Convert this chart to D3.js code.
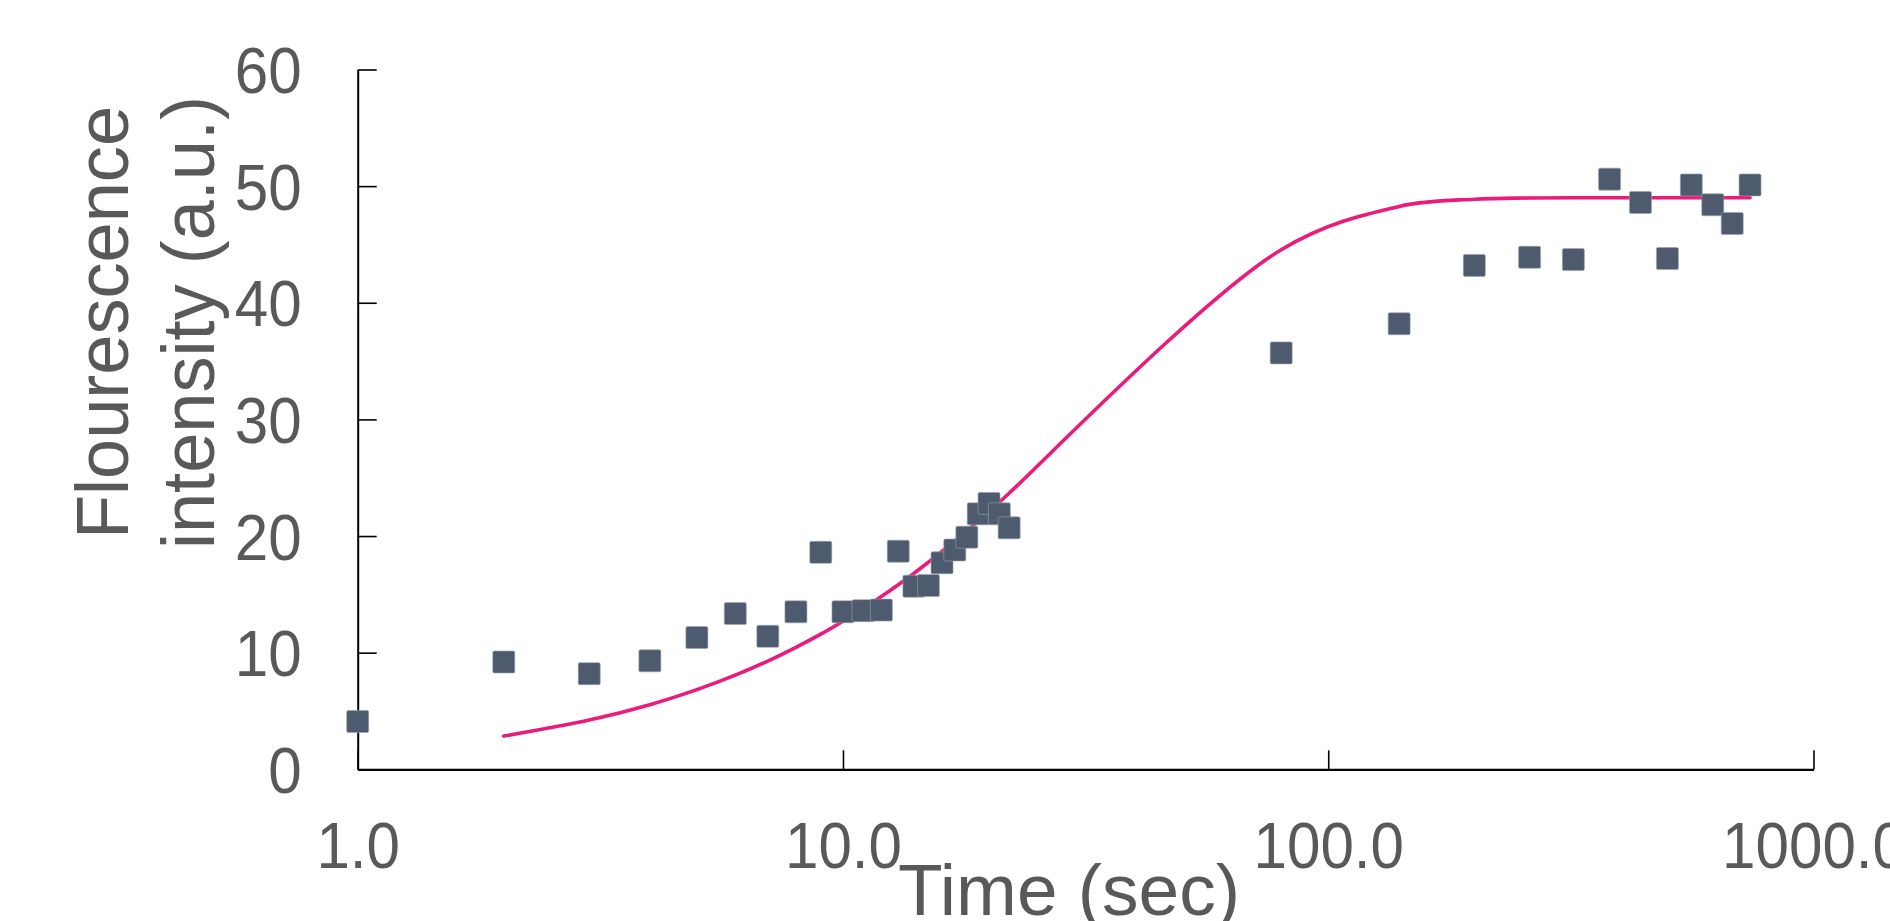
<!DOCTYPE html>
<html>
<head>
<meta charset="utf-8">
<script src="https://cdn.jsdelivr.net/npm/d3@7"></script>
<style>
  html, body { margin: 0; padding: 0; background: #ffffff; }
  svg { display: block; }
  text { font-family: "Liberation Sans", Arial, Helvetica, sans-serif; fill: #595959; }
</style>
</head>
<body>
<svg id="chart" width="1890" height="921"></svg>
<script>
// ---- data ----
const pointTimes = [1, 2, 3, 4, 5, 6, 7, 8, 9, 10, 11, 12, 13, 14, 15, 16, 17, 18, 19, 20, 21, 22,
                    80, 140, 200, 260, 320, 380, 440, 500, 560, 620, 680, 740];
const pointValues = [4.1, 9.2, 8.2, 9.3, 11.3, 13.35, 11.4, 13.5, 18.6, 13.5, 13.6, 13.65, 18.7, 15.7, 15.75, 17.7, 18.8, 19.9, 21.9, 22.8, 21.9, 20.7,
                     35.7, 38.2, 43.2, 43.9, 43.7, 50.6, 48.6, 43.8, 50.1, 48.4, 46.8, 50.1];

const fitTimes = [2, 3, 4, 5, 6, 7, 8, 9, 10, 11, 12, 13, 14, 15, 16, 17, 18, 19, 20, 21, 22,
                  80, 140, 200, 260, 320, 380, 440, 500, 560, 620, 680, 740];
const fitValues = [2.85, 4.22, 5.54, 6.83, 8.07, 9.28, 10.46, 11.59, 12.70, 13.77, 14.81, 15.82, 16.80, 17.76, 18.68, 19.58, 20.45, 21.29, 22.11, 22.90, 23.67,
                   44.55, 48.26, 48.88, 48.98, 49.0, 49.0, 49.0, 49.0, 49.0, 49.0, 49.0, 49.0];

const xTickValues = [1, 10, 100, 1000];
const xTickLabels = ["1.0", "10.0", "100.0", "1000.0"];
const yTickValues = [0, 10, 20, 30, 40, 50, 60];
const yTickLabels = ["0", "10", "20", "30", "40", "50", "60"];

const xTitle = "Time (sec)";
const yTitleLines = ["Flourescence", "intensity (a.u.)"];

// ---- layout ----
const svg = d3.select("#chart");
const plotLeft = 357.7, plotRight = 1813.5, plotTop = 69.5, plotBottom = 769.3;
const labelSqueeze = 0.94;

const x = d3.scaleLog().domain([1, 1000]).range([plotLeft, plotRight]);
const y = d3.scaleLinear().domain([0, 60]).range([plotBottom, plotTop]);

// x axis
const xAxis = d3.axisBottom(x)
  .tickValues(xTickValues)
  .tickFormat((d, i) => xTickLabels[i])
  .tickSizeInner(-19)
  .tickSizeOuter(0)
  .tickPadding(53);

const gx = svg.append("g").attr("transform", `translate(0,${plotBottom})`).call(xAxis);
gx.select(".domain").attr("stroke", "#000").attr("stroke-width", 2.2);
gx.selectAll(".tick line").attr("stroke", "#000").attr("stroke-width", 1.6);
gx.selectAll(".tick text")
  .attr("font-size", 64)
  .attr("font-family", "Liberation Sans, Arial, sans-serif")
  .attr("fill", "#595959")
  .attr("transform", `scale(${labelSqueeze},1)`);

// y axis
const yPad = 56;
const yAxis = d3.axisLeft(y)
  .tickValues(yTickValues)
  .tickFormat((d, i) => yTickLabels[i])
  .tickSizeInner(-19)
  .tickSizeOuter(0)
  .tickPadding(yPad);

const gy = svg.append("g").attr("transform", `translate(${plotLeft},0)`).call(yAxis);
gy.select(".domain").attr("stroke", "#000").attr("stroke-width", 2);
gy.selectAll(".tick line").attr("stroke", "#000").attr("stroke-width", 1.6);
gy.selectAll(".tick text")
  .attr("font-size", 64)
  .attr("font-family", "Liberation Sans, Arial, sans-serif")
  .attr("fill", "#595959")
  .attr("dy", "0.36em")
  .attr("x", -yPad / labelSqueeze)
  .attr("transform", `scale(${labelSqueeze},1)`);

// fitted line
const fitData = fitTimes.map((t, i) => [t, fitValues[i]]);
const line = d3.line()
  .x(d => x(d[0]))
  .y(d => y(d[1]))
  .curve(d3.curveCatmullRom.alpha(0.5));

svg.append("path")
  .datum(fitData)
  .attr("d", line)
  .attr("fill", "none")
  .attr("stroke", "#ec1a7b")
  .attr("stroke-width", 3.6)
  .attr("stroke-linecap", "round");

// points
const sq = 22;
const pts = pointTimes.map((t, i) => [t, pointValues[i]]);
svg.append("g").selectAll("rect")
  .data(pts)
  .join("rect")
  .attr("x", d => x(d[0]) - sq / 2)
  .attr("y", d => y(d[1]) - sq / 2)
  .attr("width", sq)
  .attr("height", sq)
  .attr("rx", 1.5)
  .attr("fill", "#4e5a6d")
  .attr("stroke", "#9aa2ae")
  .attr("stroke-width", 0.6);

// titles
svg.append("text")
  .attr("x", 1069)
  .attr("y", 915)
  .attr("text-anchor", "middle")
  .attr("font-size", 73)
  .text(xTitle);

const yt = svg.append("text")
  .attr("transform", "translate(128.3,322.5) rotate(-90) scale(0.975,1)")
  .attr("text-anchor", "middle")
  .attr("font-size", 74);
yt.selectAll("tspan")
  .data(yTitleLines)
  .join("tspan")
  .attr("x", 0)
  .attr("y", (d, i) => i * 86)
  .text(d => d);
</script>
</body>
</html>
